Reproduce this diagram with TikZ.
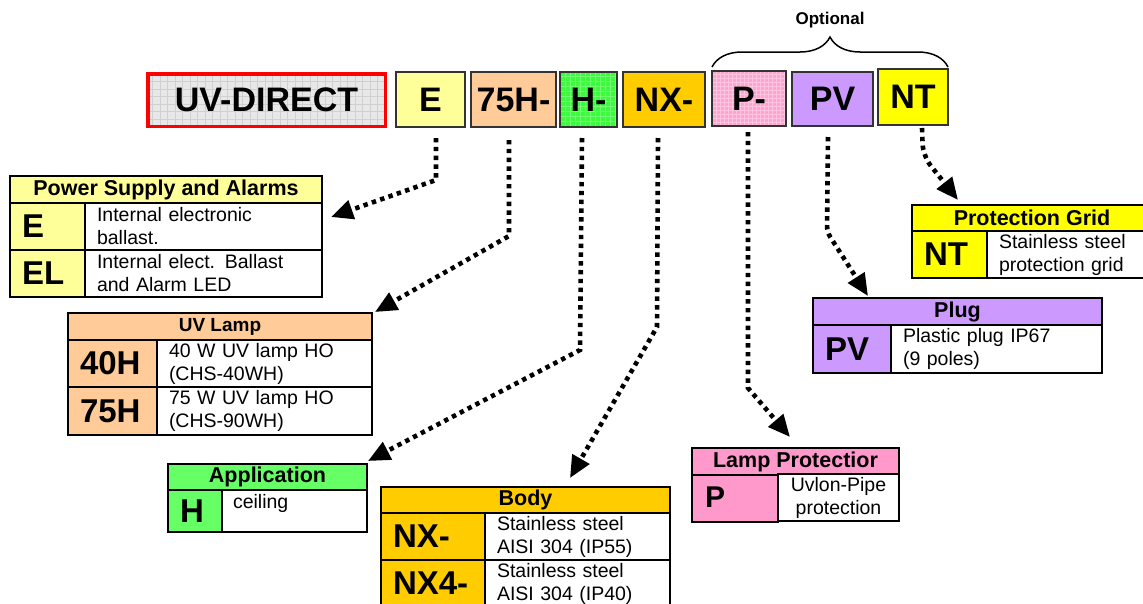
\documentclass[tikz,border=0pt]{standalone}
\usepackage{fontspec}
\setmainfont{Liberation Sans}
\usetikzlibrary{arrows.meta,calc,decorations.pathreplacing}
\definecolor{lyellow}{HTML}{FFFF99}
\definecolor{peach}{HTML}{FFCC99}
\definecolor{lgreen}{HTML}{66FF66}
\definecolor{gold}{HTML}{FFCC00}
\definecolor{pinkc}{HTML}{FF99CC}
\definecolor{lilac}{HTML}{CC99FF}
\definecolor{yel}{HTML}{FFFF00}
\definecolor{uvgray}{HTML}{E8E8E8}
\definecolor{uvgrid}{HTML}{D0D0D0}
\definecolor{hgreen}{HTML}{3CFA3C}
\definecolor{hgrid}{HTML}{70FF70}
\definecolor{pfill}{HTML}{FFA3CF}
\definecolor{pgrid}{HTML}{FFC4E2}
\begin{document}
\begin{tikzpicture}[x=1pt,y=-1pt,
  every node/.style={outer sep=0pt},
  topbox/.style={draw=black!80, line width=1.2pt, inner sep=0pt,
    font=\fontsize{34}{34}\selectfont\bfseries},
  hdr/.style={draw, line width=2pt, anchor=north west, inner sep=0pt,
    font=\fontsize{21.5}{23}\selectfont\bfseries},
  codecell/.style={draw, line width=2pt, anchor=north west, inner ysep=0pt,
    inner xsep=12pt, align=left, font=\fontsize{33}{33}\selectfont\bfseries},
  desc/.style={draw, line width=2pt, anchor=north west, fill=white,
    inner ysep=0pt, inner xsep=12pt, align=left,
    font=\fontsize{19.5}{23}\selectfont},
  conn/.style={line width=4.6pt, dash pattern=on 4.4pt off 4.4pt,
    -{Triangle[length=22pt,width=19pt]}},
  gridfill/.style n args={3}{path picture={\draw[#1, line width=#3]
    (path picture bounding box.south west) grid[step=#2]
    (path picture bounding box.north east);}}
]
\useasboundingbox (0,0) rectangle (1143,603);
\clip (0,0) rectangle (1143,603);

% ---- top row ----
\node[topbox, draw=red, line width=3.5pt, fill=uvgray,
  gridfill={uvgrid}{7.5pt}{0.6pt},
  minimum width=237.5, minimum height=52.5] (uv) at (266.5,100) {UV-DIRECT};
\node[topbox, fill=lyellow, minimum width=69, minimum height=55] (E) at (430.5,99.5) {E};
\node[topbox, fill=peach, minimum width=85, minimum height=55] (L75) at (513.5,99.5) {75H-};
\node[topbox, fill=hgreen, gridfill={hgrid}{5pt}{0.5pt},
  minimum width=57, minimum height=55] (H) at (588.5,99.5) {H-};
\node[topbox, fill=gold, minimum width=82, minimum height=55] (NX) at (664,99.5) {NX-};
\node[topbox, fill=pfill, gridfill={pgrid}{4pt}{0.5pt},
  minimum width=74, minimum height=55] (P) at (749,98.5) {P-};
\node[topbox, fill=lilac, minimum width=81, minimum height=54] (PV) at (832.5,99) {PV};
\node[topbox, fill=yel, minimum width=70, minimum height=56] (NT) at (913,97) {NT};

% brace
\coordinate (brL) at (712,67);
\coordinate (brR) at (948,67);
\draw[line width=1.5pt, decorate, decoration={brace, amplitude=30pt}] (brL) -- (brR);
\node[font=\fontsize{17}{17}\selectfont\bfseries] (opt) at (830,20) {Optional};

% ---- Power Supply and Alarms ----
\node[hdr, fill=lyellow, minimum width=312, minimum height=27] (psH) at (10,176) {Power Supply and Alarms};
\node[codecell, fill=lyellow, text width=51, minimum height=47] (psC1) at (10,203) {E};
\node[desc, text width=213, minimum height=47] (psD1) at (85,203) {Internal electronic\\ballast.};
\node[codecell, fill=lyellow, text width=51, minimum height=47] (psC2) at (10,250) {EL};
\node[desc, text width=213, minimum height=47] (psD2) at (85,250) {Internal elect. Ballast\\and Alarm LED};

% ---- UV Lamp ----
\node[hdr, fill=peach, minimum width=304, minimum height=27,
  font=\fontsize{19}{21}\selectfont\bfseries] (uvH) at (68,313) {UV Lamp};
\node[codecell, fill=peach, text width=65, minimum height=47] (uvC1) at (68,340) {40H};
\node[desc, text width=191, minimum height=47] (uvD1) at (157,340) {40 W UV lamp HO\\(CHS-40WH)};
\node[codecell, fill=peach, text width=65, minimum height=48] (uvC2) at (68,387) {75H};
\node[desc, text width=191, minimum height=48] (uvD2) at (157,387) {75 W UV lamp HO\\(CHS-90WH)};

% ---- Application ----
\node[hdr, fill=lgreen, minimum width=199, minimum height=26] (apH) at (168,464) {Application};
\node[codecell, fill=lgreen, text width=30, minimum height=42] (apC1) at (168,490) {H};
\node[desc, text width=121, minimum height=42] (apD1) at (222,490) {};
\node[anchor=base west, font=\fontsize{19.5}{23}\selectfont, inner sep=0pt] (apT1) at (233,508) {ceiling};

% ---- Body ----
\node[hdr, fill=gold, minimum width=289, minimum height=26] (bdH) at (381,487) {Body};
\node[codecell, fill=gold, text width=80, minimum height=47] (bdC1) at (381,513) {NX-};
\node[desc, text width=161, minimum height=47] (bdD1) at (485,513) {Stainless steel\\AISI 304 (IP55)};
\node[codecell, fill=gold, text width=80, minimum height=47] (bdC2) at (381,560) {NX4-};
\node[desc, text width=161, minimum height=47] (bdD2) at (485,560) {Stainless steel\\AISI 304 (IP40)};

% ---- Lamp Protection ----
\node[hdr, fill=pinkc, minimum width=207, minimum height=27] (lpH) at (692,448) {Lamp Protectior};
\node[codecell, fill=pinkc, text width=62, minimum height=47] (lpC1) at (692,475) {};
\node[anchor=base west, inner sep=0pt, font=\fontsize{30}{30}\selectfont\bfseries] (lpT1) at (705,507) {P};
\node[desc, text width=97, minimum height=47, align=center, yshift=1pt] (lpD1) at (778,475) {Uvlon-Pipe\\protection};

% ---- Plug ----
\node[hdr, fill=lilac, minimum width=289, minimum height=27] (plH) at (813,298) {Plug};
\node[codecell, fill=lilac, text width=54, minimum height=48] (plC1) at (813,325) {PV};
\node[desc, text width=187, minimum height=48] (plD1) at (891,325) {Plastic plug IP67\\(9 poles)};

% ---- Protection Grid ----
\node[hdr, fill=yel, minimum width=240, minimum height=26] (pgH) at (912,205) {Protection Grid};
\node[codecell, fill=yel, text width=51, minimum height=47] (pgC1) at (912,231) {NT};
\node[desc, text width=141, minimum height=47] (pgD1) at (987,231) {Stainless steel\\protection grid};

% ---- connectors ----
\coordinate (kE) at (436,180);
\coordinate (k75) at (509,236);
\coordinate (kH) at (580,350);
\coordinate (kNX) at (657,327);
\coordinate (kP) at (748,388);
\coordinate (kPV) at (827,232);
\coordinate (kNT) at (923,156);

\draw[conn] ($(E.south)+(5.5,11)$) -- (kE) -- ($(psD1.north east)+(9,14)$);
\draw[conn] ($(L75.south)+(-4.5,13)$) -- (k75) -- ($(uvH.north east)+(3,-1)$);
\draw[conn] ($(H.south)+(-6.5,11)$) -- (kH) -- ($(apH.north east)+(1,-3)$);
\draw[conn] ($(NX.south)+(-6,11)$) -- (kNX) -- ($(bdH.north)+(44.5,-9)$);
\draw[conn] ($(P.south)+(-1,6)$) -- (kP) -- ($(lpH.north)+(-5.5,-11)$);
\draw[conn, rounded corners=6pt] ($(PV.south)+(-4.5,11)$) -- (kPV) -- ($(plH.north west)+(55,-2)$);
\draw[conn, rounded corners=12pt] ($(NT.south)+(9,3)$) -- (kNT) -- ($(pgH.north west)+(46,-5)$);
\end{tikzpicture}
\end{document}
